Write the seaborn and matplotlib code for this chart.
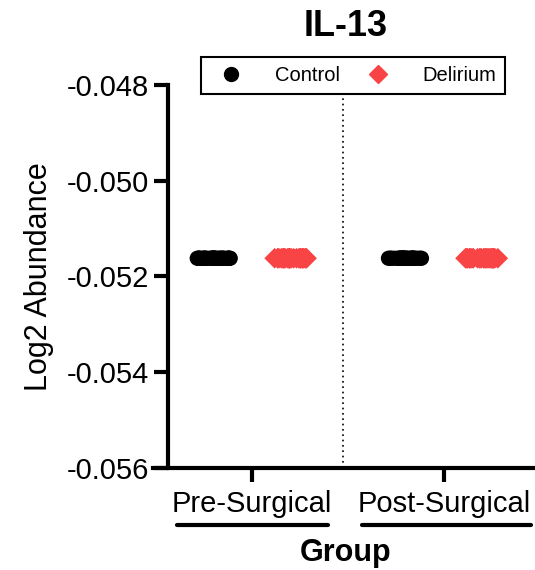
import numpy as np
import pandas as pd
import matplotlib
matplotlib.use("Agg")
import matplotlib.pyplot as plt
from matplotlib.lines import Line2D
import seaborn as sns

groups = ["Pre-Surgical", "Post-Surgical"]
statuses = ["Control", "Delirium"]
colors = {"Control": "#000000", "Delirium": "#F94446"}

control_pre = [-0.05162, -0.05162, -0.05162, -0.05162, -0.05162, -0.05162, -0.05162, -0.05162,
               -0.05162, -0.05162, -0.05162, -0.05162, -0.05162, -0.05162, -0.05162, -0.05162,
               -0.05162, -0.05162, -0.05162, -0.05162, -0.05162, -0.05162, -0.05162, -0.05162,
               -0.05162, -0.05162, -0.05162, -0.05162, -0.05162, -0.05162, -0.05162, -0.05162]
delirium_pre = [-0.05162, -0.05162, -0.05162, -0.05162, -0.05162, -0.05162, -0.05162, -0.05162,
                -0.05162, -0.05162, -0.05162, -0.05162, -0.05162, -0.05162, -0.05162, -0.05162,
                -0.05162, -0.05162, -0.05162, -0.05162, -0.05162, -0.05162, -0.05162, -0.05162,
                -0.05162, -0.05162, -0.05162, -0.05162, -0.05162, -0.05162, -0.05162, -0.05162]
control_post = [-0.05162, -0.05162, -0.05162, -0.05162, -0.05162, -0.05162, -0.05162, -0.05162,
                -0.05162, -0.05162, -0.05162, -0.05162, -0.05162, -0.05162, -0.05162, -0.05162,
                -0.05162, -0.05162, -0.05162, -0.05162, -0.05162, -0.05162, -0.05162, -0.05162,
                -0.05162, -0.05162, -0.05162, -0.05162, -0.05162, -0.05162, -0.05162, -0.05162]
delirium_post = [-0.05162, -0.05162, -0.05162, -0.05162, -0.05162, -0.05162, -0.05162, -0.05162,
                 -0.05162, -0.05162, -0.05162, -0.05162, -0.05162, -0.05162, -0.05162, -0.05162,
                 -0.05162, -0.05162, -0.05162, -0.05162, -0.05162, -0.05162, -0.05162, -0.05162,
                 -0.05162, -0.05162, -0.05162, -0.05162, -0.05162, -0.05162, -0.05162, -0.05162]

y_ticks = [-0.056, -0.054, -0.052, -0.050, -0.048]

rows = []
for grp, st, vals in [("Pre-Surgical", "Control", control_pre),
                      ("Pre-Surgical", "Delirium", delirium_pre),
                      ("Post-Surgical", "Control", control_post),
                      ("Post-Surgical", "Delirium", delirium_post)]:
    for v in vals:
        rows.append({"Group": grp, "Status": st, "Value": v})
df = pd.DataFrame(rows)

sns.set_style("ticks", rc={"axes.edgecolor": "black", "text.color": "black",
                           "axes.labelcolor": "black", "xtick.color": "black",
                           "ytick.color": "black"})
plt.rcParams["font.family"] = ["Liberation Sans", "DejaVu Sans"]

fig = plt.figure(figsize=(5.35, 5.7), dpi=100)
ax = fig.add_axes([0.286, 0.179, 0.72, 0.672])

np.random.seed(7)
markers = {"Control": "o", "Delirium": "D"}
sizes = {"Control": 11, "Delirium": 10.5}
for st in statuses:
    sns.stripplot(data=df[df["Status"] == st], x="Group", y="Value", hue="Status",
                  order=groups, hue_order=statuses, palette=colors, dodge=True,
                  jitter=0.18, marker=markers[st], size=sizes[st], linewidth=0,
                  legend=False, ax=ax)

ax.set_xlim(-0.516, 1.49)
ax.set_ylim(-0.056, -0.048)
ax.set_yticks(y_ticks)
ax.set_yticklabels([f"{t:.3f}" for t in y_ticks])
ax.axvline(0.475, color="black", linestyle=(0, (1, 2.2)), linewidth=1.2, zorder=0)

for side in ["top", "right"]:
    ax.spines[side].set_visible(False)
ax.spines["left"].set_position(("axes", 0.039))
ax.spines["left"].set_linewidth(3)
ax.spines["bottom"].set_linewidth(3)
ax.tick_params(axis="both", width=3, length=10, labelsize=21, color="black")
ax.tick_params(axis="x", pad=6)

ax.set_xlabel("Group", fontsize=22, fontweight="bold", labelpad=14)
ax.set_ylabel("Log2 Abundance", fontsize=22, labelpad=9)
ax.set_title("IL-13", fontsize=26, fontweight="bold", x=0.5, y=1.105)

# group underlines below category labels
trans = ax.get_xaxis_transform()
ax.plot([-0.39, 0.395], [-0.15, -0.15], color="black", linewidth=3, transform=trans, clip_on=False)
ax.plot([0.57, 1.45], [-0.15, -0.15], color="black", linewidth=3, transform=trans, clip_on=False)

handles = [Line2D([], [], marker="o", color=colors["Control"], linestyle="", markersize=10),
           Line2D([], [], marker="D", color=colors["Delirium"], linestyle="", markersize=9.5)]
leg = ax.legend(handles, statuses, loc="upper center", bbox_to_anchor=(0.52, 1.1), ncol=2,
                fontsize=14.5, frameon=True, fancybox=False, handletextpad=1.2,
                columnspacing=0.9, borderpad=0.45, handlelength=2)
leg.get_frame().set_edgecolor("black")
leg.get_frame().set_linewidth(1.5)
leg.get_frame().set_alpha(1)

fig.savefig("out.png", dpi=100)
